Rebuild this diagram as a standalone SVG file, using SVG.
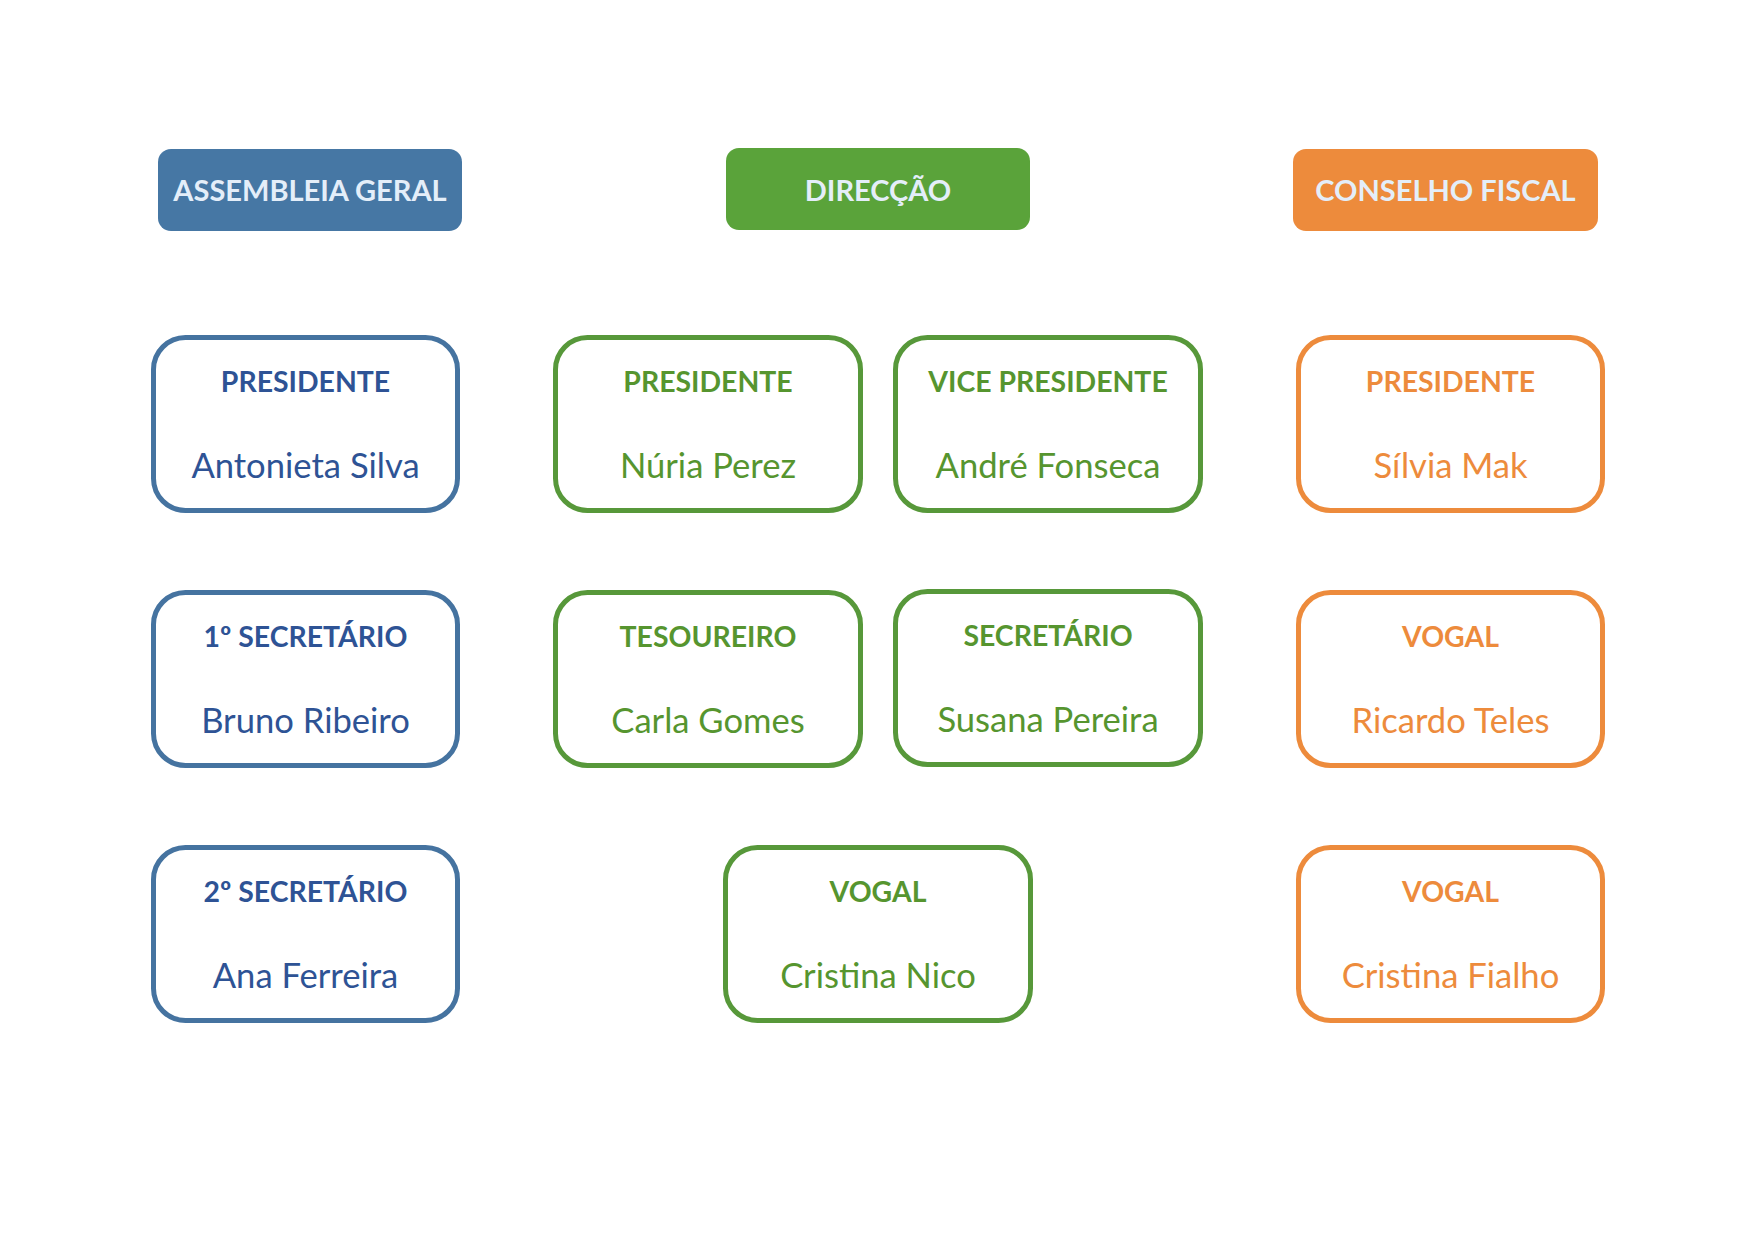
<svg xmlns="http://www.w3.org/2000/svg" width="1754" height="1240" viewBox="0 0 1754 1240">
<style>
  text { font-family: Lato, "Liberation Sans", sans-serif; text-anchor: middle; }
  .hdr { font-size: 29px; font-weight: bold; fill: #e4eef9; }
  .ttl { font-size: 28.4px; font-weight: bold; }
  .nm { font-size: 34.6px; }
  .box { fill: #ffffff; stroke-width: 5; }
  .blue .box { stroke: #4573a0; }
  .blue text { fill: #2e5395; }
  .green .box { stroke: #57983a; }
  .green text { fill: #56952f; }
  .orange .box { stroke: #ed8b3c; }
  .orange text { fill: #ed8b3c; }
</style>
<rect width="1754" height="1240" fill="#ffffff"/>
<g id="headers">
  <g id="h-assembleia">
    <rect x="158" y="149" width="304" height="82" rx="13" fill="#4677a4"/>
    <text class="hdr" x="310" y="201">ASSEMBLEIA GERAL</text>
  </g>
  <g id="h-direccao">
    <rect x="726" y="148" width="304" height="82" rx="13" fill="#5aa33a"/>
    <text class="hdr" x="878" y="201">DIRECÇÃO</text>
  </g>
  <g id="h-conselho">
    <rect x="1293" y="149" width="305" height="82" rx="13" fill="#ed8b3c"/>
    <text class="hdr" x="1445.5" y="201">CONSELHO FISCAL</text>
  </g>
</g>
<g id="connectors"></g>
<g id="ag-presidente" class="blue">
  <rect class="box" x="153.5" y="337.5" width="304" height="173" rx="32"/>
  <text class="ttl" x="305.5" y="392">PRESIDENTE</text>
  <text class="nm" x="305.5" y="478">Antonieta Silva</text>
</g>
<g id="ag-sec1" class="blue">
  <rect class="box" x="153.5" y="592.5" width="304" height="173" rx="32"/>
  <text class="ttl" x="305.5" y="647">1º SECRETÁRIO</text>
  <text class="nm" x="305.5" y="733">Bruno Ribeiro</text>
</g>
<g id="ag-sec2" class="blue">
  <rect class="box" x="153.5" y="847.5" width="304" height="173" rx="32"/>
  <text class="ttl" x="305.5" y="902">2º SECRETÁRIO</text>
  <text class="nm" x="305.5" y="988">Ana Ferreira</text>
</g>
<g id="d-presidente" class="green">
  <rect class="box" x="555.5" y="337.5" width="305" height="173" rx="32"/>
  <text class="ttl" x="708" y="392">PRESIDENTE</text>
  <text class="nm" x="708" y="478">Núria Perez</text>
</g>
<g id="d-vice" class="green">
  <rect class="box" x="895.5" y="337.5" width="305" height="173" rx="32"/>
  <text class="ttl" x="1048" y="392">VICE PRESIDENTE</text>
  <text class="nm" x="1048" y="478">André Fonseca</text>
</g>
<g id="d-tesoureiro" class="green">
  <rect class="box" x="555.5" y="592.5" width="305" height="173" rx="32"/>
  <text class="ttl" x="708" y="647">TESOUREIRO</text>
  <text class="nm" x="708" y="733">Carla Gomes</text>
</g>
<g id="d-secretario" class="green">
  <rect class="box" x="895.5" y="591.5" width="305" height="173" rx="32"/>
  <text class="ttl" x="1048" y="646">SECRETÁRIO</text>
  <text class="nm" x="1048" y="732">Susana Pereira</text>
</g>
<g id="d-vogal" class="green">
  <rect class="box" x="725.5" y="847.5" width="305" height="173" rx="32"/>
  <text class="ttl" x="878" y="902">VOGAL</text>
  <text class="nm" x="878" y="988">Cristina Nico</text>
</g>
<g id="cf-presidente" class="orange">
  <rect class="box" x="1298.5" y="337.5" width="304" height="173" rx="32"/>
  <text class="ttl" x="1450.5" y="392">PRESIDENTE</text>
  <text class="nm" x="1450.5" y="478">Sílvia Mak</text>
</g>
<g id="cf-vogal1" class="orange">
  <rect class="box" x="1298.5" y="592.5" width="304" height="173" rx="32"/>
  <text class="ttl" x="1450.5" y="647">VOGAL</text>
  <text class="nm" x="1450.5" y="733">Ricardo Teles</text>
</g>
<g id="cf-vogal2" class="orange">
  <rect class="box" x="1298.5" y="847.5" width="304" height="173" rx="32"/>
  <text class="ttl" x="1450.5" y="902">VOGAL</text>
  <text class="nm" x="1450.5" y="988">Cristina Fialho</text>
</g>
</svg>
